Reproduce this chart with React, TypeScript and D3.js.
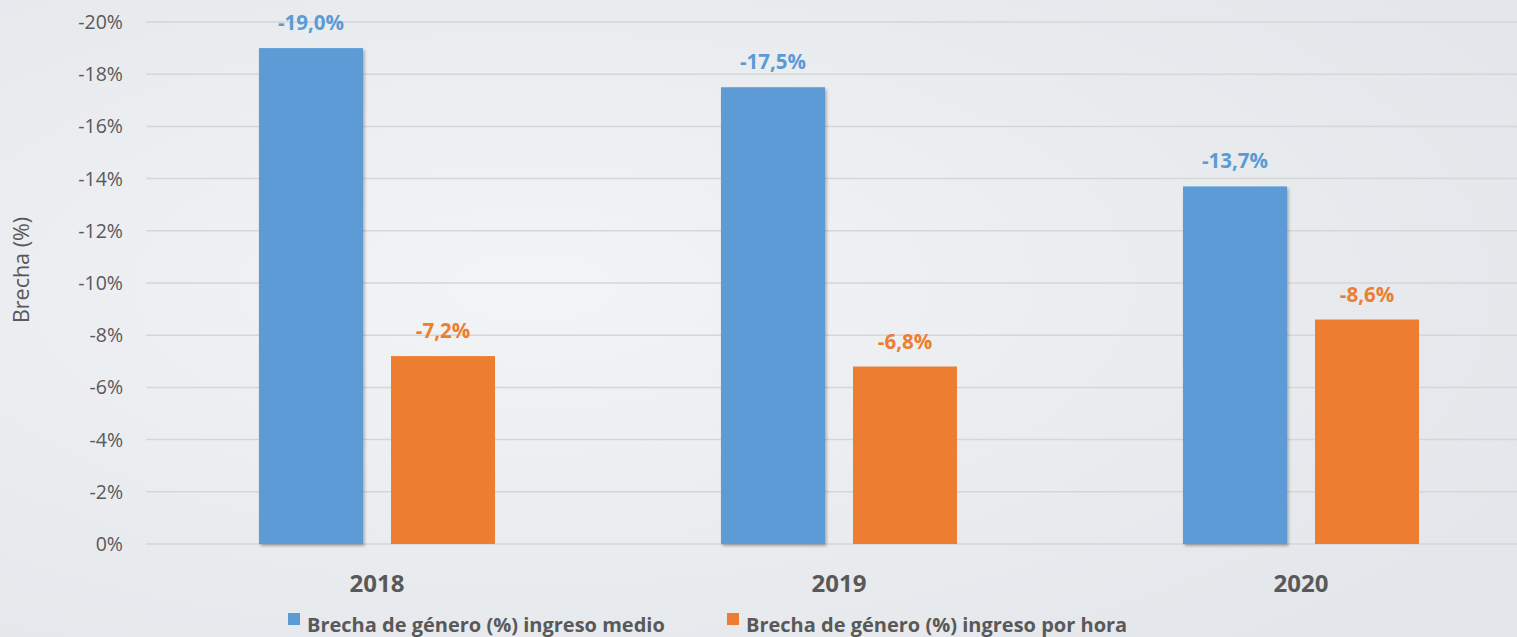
import React from 'react';
import * as d3 from 'd3';

// chart data
const years = ['2018', '2019', '2020'];
const seriesNames = ['Brecha de género (%) ingreso medio', 'Brecha de género (%) ingreso por hora'];
const ingresoMedio = [-19.0, -17.5, -13.7];
const ingresoPorHora = [-7.2, -6.8, -8.6];
const yTicks = [0, -2, -4, -6, -8, -10, -12, -14, -16, -18, -20];
const colors = ['#5b9bd5', '#ed7d31'];

const W = 1517;
const H = 637;
const FONT = '"Open Sans", "Noto Sans", sans-serif';

const fmtLabel = (v: number) => v.toFixed(1).replace('.', ',') + '%';
const fmtTick = (v: number) => (v === 0 ? '0%' : `${v}%`);

const App = () => {
  const series = [ingresoMedio, ingresoPorHora];

  // plot area runs past the right edge of the window (cropped original)
  const x0 = d3.scaleBand().domain(years).range([146, 1532]).padding(0);
  const x1 = d3.scaleBand().domain(['0', '1']).range([113, 349]).paddingInner(28 / 132);
  const y = d3.scaleLinear().domain([0, -20]).range([544, 22]);

  return (
    <svg
      width={W}
      height={H}
      style={{ position: 'absolute', left: 0, top: 0, display: 'block' }}
      fontFamily={FONT}
    >
      <defs>
        <radialGradient id="bg" cx="35%" cy="45%" r="75%">
          <stop offset="0%" stopColor="#f2f4f6" />
          <stop offset="100%" stopColor="#e3e6ea" />
        </radialGradient>
        <filter id="shadow" x="-10%" y="-5%" width="130%" height="115%">
          <feDropShadow dx="1.5" dy="2" stdDeviation="1.5" floodColor="#000" floodOpacity="0.3" />
        </filter>
      </defs>
      <rect x={0} y={0} width={W} height={H} fill="url(#bg)" />

      {/* gridlines + y ticks */}
      {yTicks.map((t) => (
        <g key={t}>
          <line x1={146} x2={W} y1={y(t)} y2={y(t)} stroke="#d6d6d6" strokeWidth={1.5} />
          <text x={123} y={y(t)} dy="0.36em" textAnchor="end" fontSize={19.5} fill="#595959">
            {fmtTick(t)}
          </text>
        </g>
      ))}

      <text
        transform={`translate(29,${y(-10) - 13}) rotate(-90)`}
        textAnchor="middle"
        fontSize={21.5}
        fill="#595959"
      >
        Brecha (%)
      </text>

      {/* bars */}
      {years.map((yr, i) => (
        <g key={yr} transform={`translate(${x0(yr)},0)`}>
          {series.map((s, k) => {
            const bx = x1(String(k)) as number;
            const v = s[i];
            return (
              <g key={k}>
                <rect
                  x={bx}
                  y={y(v)}
                  width={x1.bandwidth()}
                  height={y(0) - y(v)}
                  fill={colors[k]}
                  filter={k === 0 ? 'url(#shadow)' : undefined}
                />
                <text
                  x={bx + x1.bandwidth() / 2}
                  y={y(v) - 18}
                  textAnchor="middle"
                  fontSize={20.5}
                  fontWeight="bold"
                  fill={colors[k]}
                >
                  {fmtLabel(v)}
                </text>
              </g>
            );
          })}
          <text
            x={x0.bandwidth() / 2}
            y={592}
            textAnchor="middle"
            fontSize={24}
            fontWeight="bold"
            fill="#595959"
          >
            {yr}
          </text>
        </g>
      ))}

      {/* legend */}
      {seriesNames.map((name, k) => {
        const lx = k === 0 ? 288 : 727;
        return (
          <g key={name}>
            <rect x={lx} y={613} width={12} height={12} fill={colors[k]} />
            <text x={lx + 19} y={632} fontSize={20} fontWeight="bold" fill="#595959">
              {name}
            </text>
          </g>
        );
      })}
    </svg>
  );
};

export default App;
